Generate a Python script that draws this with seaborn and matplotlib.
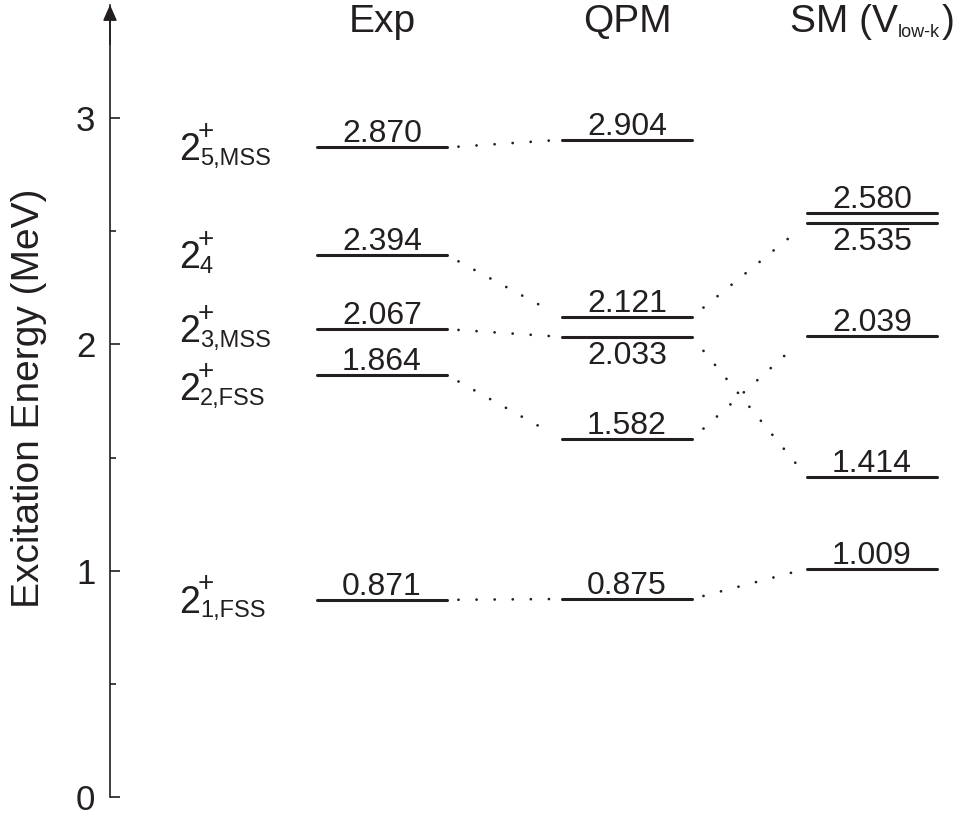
import numpy as np
import pandas as pd
import matplotlib
matplotlib.use("Agg")
import matplotlib.pyplot as plt
import seaborn as sns
from matplotlib.transforms import ScaledTranslation

# ---- level energies (MeV) ----
models = ["Exp", "QPM", "SM"]
exp_energy = [0.871, 1.864, 2.067, 2.394, 2.870]
qpm_energy = [0.875, 1.582, 2.033, 2.121, 2.904]
sm_energy = [1.009, 1.414, 2.039, 2.535, 2.580]
state_labels = ["1,FSS", "2,FSS", "3,MSS", "4", "5,MSS"]

# dotted correspondences (index in left column, index in right column)
exp_to_qpm = [(0, 0), (1, 1), (2, 2), (3, 3), (4, 4)]
qpm_to_sm = [(0, 0), (1, 2), (2, 1), (3, 3)]

# levels whose value is written below the line
below = {("QPM", 2), ("SM", 3)}

sns.set_theme(style="white")
plt.rcParams["font.family"] = ["Liberation Sans", "DejaVu Sans"]
ink = "#231f20"

W, H, DPI = 962, 823, 100
fig = plt.figure(figsize=(W / DPI, H / DPI), dpi=DPI)

# geometry in pixels
axis_px, col0_px, col_step_px, half_px = 110, 382, 245, 65
y0_px, mev_px, ymax = 26, 226.33, 3.5
ax = fig.add_axes([axis_px / W, y0_px / H, (W - axis_px) / W, ymax * mev_px / H])
xlim = ((axis_px - col0_px) / col_step_px, (W - col0_px) / col_step_px)
ax.set_xlim(*xlim)
ax.set_ylim(0, ymax)
hw = half_px / col_step_px

def shift(dx_px, dy_px):
    return ax.transData + ScaledTranslation(dx_px / DPI, dy_px / DPI, fig.dpi_scale_trans)

columns = {"Exp": exp_energy, "QPM": qpm_energy, "SM": sm_energy}

# level lines
rows = []
for ci, m in enumerate(models):
    for li, e in enumerate(columns[m]):
        for x in (ci - hw, ci + hw):
            rows.append({"model": m, "level": f"{m}{li}", "x": x, "E": e})
levels = pd.DataFrame(rows)
sns.lineplot(data=levels, x="x", y="E", units="level", estimator=None, sort=False,
             color=ink, lw=2.2, ax=ax, legend=False)

# dotted connectors
crows = []
for (a, b, pairs) in [("Exp", "QPM", exp_to_qpm), ("QPM", "SM", qpm_to_sm)]:
    ca, cb = models.index(a), models.index(b)
    for k, (i, j) in enumerate(pairs):
        p0 = np.array([ca + hw, columns[a][i]])
        p1 = np.array([cb - hw, columns[b][j]])
        for t in (0.1, 0.9):
            p = p0 + t * (p1 - p0)
            crows.append({"link": f"{a}{b}{k}", "x": p[0], "E": p[1]})
links = pd.DataFrame(crows)
sns.lineplot(data=links, x="x", y="E", units="link", estimator=None, sort=False,
             color=ink, lw=2.0, linestyle=(0, (0.01, 6.5)), dash_capstyle="round",
             ax=ax, legend=False)

# value labels
for ci, m in enumerate(models):
    for li, e in enumerate(columns[m]):
        if (m, li) in below:
            ax.text(ci, e, f"{e:.3f}", ha="center", va="top", fontsize=23, color=ink,
                    transform=shift(0, -4))
        else:
            ax.text(ci, e, f"{e:.3f}", ha="center", va="baseline", fontsize=23, color=ink,
                    transform=shift(0, 5))

# state labels to the left of the Exp column
lab_x = (179 - col0_px) / col_step_px
lab_dy = {1: -12}
for li, e in enumerate(exp_energy):
    dy = lab_dy.get(li, 0)
    ax.text(lab_x, e, "2", ha="left", va="baseline", fontsize=27, color=ink,
            transform=shift(0, dy - 13))
    ax.text(lab_x, e, "+", ha="left", va="baseline", fontsize=20, color=ink,
            transform=shift(19, dy + 8.6))
    ax.text(lab_x, e, state_labels[li], ha="left", va="baseline", fontsize=17, color=ink,
            transform=shift(21, dy - 17.6))

# column headers
head_y = (H - 32 - y0_px) / mev_px
ax.text(0, head_y, "Exp", ha="center", va="baseline", fontsize=28, color=ink)
ax.text(1, head_y, "QPM", ha="center", va="baseline", fontsize=28, color=ink)
ax.text(2, head_y, "SM (V", ha="right", va="baseline", fontsize=28, color=ink,
        transform=shift(26, 0))
ax.text(2, head_y, "low-k", ha="left", va="baseline", fontsize=13, color=ink,
        transform=shift(26, -5))
ax.text(2, head_y, ")", ha="left", va="baseline", fontsize=28, color=ink,
        transform=shift(70, 0))

# energy axis with arrow head
for s in ("top", "right", "bottom"):
    ax.spines[s].set_visible(False)
ax.spines["left"].set_linewidth(1.2)
ax.spines["left"].set_color(ink)
ax.set_xticks([])
ax.set_yticks([0, 1, 2, 3])
ax.set_yticks([0.5, 1.5, 2.5], minor=True)
ax.tick_params(axis="y", which="major", direction="in", length=7.2, width=1.2,
               color=ink, labelsize=25, labelcolor=ink, pad=10.5, left=True)
ax.tick_params(axis="y", which="minor", direction="in", length=4.3, width=1.2,
               color=ink, left=True)
ax.annotate("", xy=(0, 1), xycoords="axes fraction", xytext=(0, 0.95),
            arrowprops=dict(arrowstyle="-|>,head_length=0.95,head_width=0.42",
                            mutation_scale=10, color=ink, lw=1.2, shrinkA=0, shrinkB=0))
ax.set_xlabel("")
ax.set_ylabel("")
fig.text(29 / W, 1 - 398 / H, "Excitation Energy (MeV)", rotation=90, ha="center",
         va="center", fontsize=28, color=ink)

fig.savefig("out.png", dpi=DPI)
